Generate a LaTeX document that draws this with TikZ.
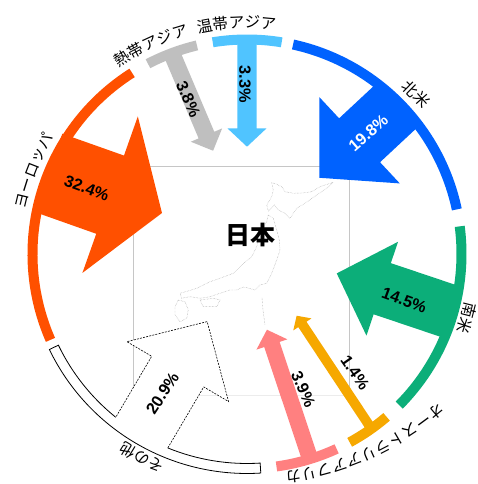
\documentclass[tikz,border=0pt]{standalone}
\usepackage{fontspec}
\setmainfont{Liberation Sans}
\newfontfamily\jp{Noto Sans CJK JP}
\usetikzlibrary{decorations.text}
\definecolor{cBlue}{RGB}{0,98,255}
\definecolor{cRed}{RGB}{255,80,0}
\definecolor{cGray}{RGB}{191,191,191}
\definecolor{cSky}{RGB}{80,196,255}
\definecolor{cGreen}{RGB}{12,174,121}
\definecolor{cOrange}{RGB}{246,168,0}
\definecolor{cPink}{RGB}{255,128,128}
% ring segment: start angle, end angle, colour
\newcommand\ringseg[3]{\fill[#3] (#1:219.5) arc[start angle=#1,end angle=#2,radius=219.5] -- (#2:209.5) arc[start angle=#2,end angle=#1,radius=209.5] -- cycle;}
% arrow: base angle, direction, length, head length, half shaft, half head, style
\newcommand\arrowpath[7]{\fill[#7,shift={(#1:209.5)},rotate=#2] (5,#5) -- ({#4-#3},#5) -- ({#4-#3},#6) -- ({-#3},0) -- ({#4-#3},-#6) -- ({#4-#3},-#5) -- (5,-#5) -- cycle;}
% curved label: centre angle, baseline radius, half span, text
\newcommand\arclabel[4]{\path[decorate,decoration={text along path,text align=center,text={|\jp\fontsize{15.5}{18}\selectfont|#4}}] ({#1+#3}:#2) arc[start angle={#1+#3},end angle={#1-#3},radius=#2];}
\begin{document}
\begin{tikzpicture}[x=1pt,y=1pt,
  pct/.style={font=\bfseries\fontsize{16.3}{19}\selectfont, inner sep=0pt},
  mapline/.style={gray!75, line width=0.45pt, densely dotted},
  framec/.style={gray!45, line width=0.6pt},
  whiteout/.style={line width=0.8pt, black},
  whitedash/.style={line width=0.6pt, black, dash pattern=on 2pt off 1.2pt}]
\useasboundingbox (0,0) rectangle (477,484);
\fill[white] (0,0) rectangle (477,484);

% map of Japan (screen coordinates)
\begin{scope}[shift={(0,484)},yscale=-1]
 \draw[framec] (133,395) -- (133,166) -- (349,166) -- (349,395);
 \draw[gray!15,line width=0.6pt] (133,395) -- (349,395);
 \draw[mapline] (271.7,182.7) -- (276,184) -- (281.7,186.7) -- (285,191.7) -- (293.3,193.3) -- (302,193) -- (311.7,191.7) -- (320,186.7) -- (333.3,182.3) -- (326.7,188.3) -- (316.7,195) -- (305,203.3) -- (296.7,208.3) -- (290,218.3) -- (285,213.3) -- (278.3,210) -- (274.3,205) -- (268.3,211) -- (266.7,205) -- (271.7,196.7) -- (273.3,190) -- cycle;
 \draw[mapline] (268.3,215) -- (273.3,218.3) -- (276.7,230) -- (279.3,240) -- (280,250) -- (276.7,260) -- (271.7,273.3) -- (266.7,283.3) -- (260,285) -- (255,290) -- (248,288) -- (243.3,287) -- (236.7,290) -- (230,290) -- (220,293.3) -- (210,296.7) -- (200,298.3) -- (190,296.7) -- (181.7,298.3) -- (180,293.3) -- (188,291) -- (196.7,288.3) -- (210,281.7) -- (220,278.3) -- (233.3,273.3) -- (241.7,265) -- (251.7,256.7) -- (256.7,246.7) -- (260,233.3) -- (266.7,221.7) -- cycle;
 \draw[mapline] (200,300) -- (213.3,298.3) -- (220,300) -- (216.7,306.7) -- (203.3,306.7) -- cycle;
 \draw[mapline] (178.3,300) -- (185,301.7) -- (188.3,310) -- (186.7,318.3) -- (180,321.7) -- (175,315) -- (175,306.7) -- cycle;
 \draw[mapline] (262,298) -- (263,310) -- (265,325);
\end{scope}

% ring and arrows
\begin{scope}[shift={(247,230)}]
 % North America
 \ringseg{12}{77.6}{cBlue}
 \arrowpath{44.75}{43}{104.5}{55}{30}{59}{cBlue}
 % temperate Asia
 \ringseg{80.7}{99.2}{cSky}
 \arrowpath{90}{90}{102.2}{18.2}{9.7}{19.4}{cSky}
 % tropical Asia
 \ringseg{103.5}{117.5}{cGray}
 \arrowpath{110.5}{113}{101}{17}{8.5}{17}{cGray}
 % Europe
 \ringseg{122.4}{203.6}{cRed}
 \arrowpath{157.7}{160.5}{115.4}{55}{41.5}{83}{cRed}
 % South America
 \ringseg{-44.8}{7.4}{cGreen}
 \arrowpath{-15.8}{-18.6}{118}{48}{27}{49.5}{cGreen}
 % Australia
 \ringseg{-61.4}{-49.4}{cOrange}
 \arrowpath{-54.5}{-56.5}{130.5}{10.4}{4.9}{10.9}{cOrange}
 % Africa
 \ringseg{-82.1}{-65.3}{cPink}
 \arrowpath{-72.9}{-71.5}{131.3}{15.6}{8.1}{16.3}{cPink}
 % others
 \ringseg{205.8}{273.6}{white}
 \arrowpath{239.5}{239.5}{131}{58}{30.2}{59}{white}
 \draw[whiteout] (231.2:209.5) arc[start angle=231.2,end angle=205.8,radius=209.5] -- (205.8:219.5) arc[start angle=205.8,end angle=273.6,radius=219.5] -- (273.6:209.5) arc[start angle=273.6,end angle=247.8,radius=209.5];
 \draw[whitedash,shift={(239.5:209.5)},rotate=239.5] (-2.19,30.2) -- (-73,30.2) -- (-73,59) -- (-131,0) -- (-73,-59) -- (-73,-30.2) -- (-2.19,-30.2);

 % region labels
 \arclabel{114.7}{226}{30}{熱帯アジア}
 \arclabel{92.6}{226}{30}{温帯アジア}
 \arclabel{43.4}{227}{20}{北米}
 \arclabel{-16.2}{223.5}{20}{南米}
 \arclabel{158.7}{225.5}{30}{ヨーロッパ}
 \arclabel{242.7}{224}{20}{その他}
\end{scope}
\begin{scope}[shift={(245.2,304.4)}]
 \arclabel{-59.65}{295}{20}{オーストラリア}
 \arclabel{-76.2}{295}{15}{アフリカ}
\end{scope}

% values
\node[pct,text=white,rotate=41] (p198) at (368.3,350.7) {19.8\%};
\node[pct,rotate=-20] (p324) at (86.7,295.7) {32.4\%};
\node[pct,rotate=-20] (p145) at (404.2,184) {14.5\%};
\node[pct,rotate=57] (p209) at (162.5,90.7) {20.9\%};
\node[pct,rotate=-66] (p38) at (188.3,384.8) {3.8\%};
\node[pct,rotate=-90] (p33) at (245,400) {3.3\%};
\node[pct,rotate=-66] (p39) at (303.3,94.8) {3.9\%};
\node[pct,rotate=-55] (p14) at (355,111.5) {1.4\%};
\node[font=\jp\bfseries\fontsize{25}{28}\selectfont, inner sep=0pt] (jpn) at (250.8,249) {日本};
\end{tikzpicture}
\end{document}
